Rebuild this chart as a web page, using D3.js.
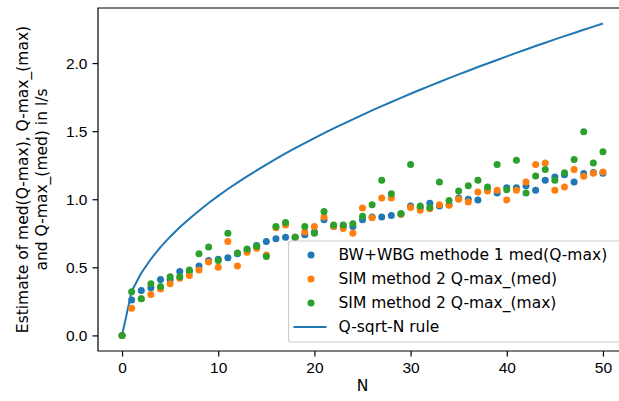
<!DOCTYPE html>
<html>
<head>
<meta charset="utf-8">
<script src="https://cdn.jsdelivr.net/npm/d3@7"></script>
<style>
  html, body { margin: 0; padding: 0; background: #fff; }
  svg { display: block; font-family: "DejaVu Sans", sans-serif; }
</style>
</head>
<body>
<div id="chart"></div>
<script>
// N = 0..50
const nValues = d3.range(0, 51);

const bwMed = [0, 0.26, 0.33, 0.35, 0.41, 0.41, 0.47, 0.47, 0.51, 0.55,
  0.56, 0.57, 0.60, 0.63, 0.66, 0.69, 0.71, 0.72, 0.72, 0.74,
  0.76, 0.85, 0.80, 0.80, 0.80, 0.85, 0.87, 0.87, 0.88, 0.89,
  0.95, 0.94, 0.97, 0.95, 0.96, 1.01, 1.00, 0.995, 1.07, 1.046,
  1.085, 1.085, 1.10, 1.066, 1.14, 1.164, 1.18, 1.127, 1.189, 1.196,
  1.19];

const simMed = [0, 0.20, 0.27, 0.30, 0.34, 0.38, 0.42, 0.44, 0.48, 0.54,
  0.50, 0.69, 0.51, 0.61, 0.64, 0.59, 0.79, 0.81, 0.72, 0.76,
  0.80, 0.87, 0.80, 0.785, 0.75, 0.936, 0.865, 1.01, 1.01, 0.89,
  0.94, 0.92, 0.93, 0.96, 0.955, 1.00, 0.98, 1.054, 1.06, 1.066,
  0.995, 1.066, 1.127, 1.255, 1.267, 1.066, 1.09, 1.218, 1.169, 1.19,
  1.20];

const simMax = [0, 0.32, 0.27, 0.38, 0.36, 0.43, 0.43, 0.48, 0.60, 0.65,
  0.55, 0.75, 0.605, 0.635, 0.655, 0.58, 0.80, 0.83, 0.72, 0.80,
  0.75, 0.91, 0.81, 0.81, 0.82, 0.875, 0.96, 1.14, 1.04, 0.895,
  1.255, 0.95, 0.94, 1.127, 0.99, 1.06, 1.10, 1.14, 1.09, 1.255,
  1.07, 1.287, 1.046, 1.17, 1.218, 1.14, 1.194, 1.292, 1.495, 1.267,
  1.348];

// Q-sqrt-N rule
const qRule = [0, 0.324, 0.458, 0.561, 0.648, 0.725, 0.794, 0.857, 0.916, 0.972,
  1.025, 1.075, 1.122, 1.168, 1.212, 1.255, 1.296, 1.336, 1.375, 1.412,
  1.449, 1.485, 1.520, 1.554, 1.587, 1.620, 1.652, 1.684, 1.714, 1.745,
  1.775, 1.804, 1.833, 1.861, 1.889, 1.917, 1.944, 1.971, 1.997, 2.023,
  2.049, 2.075, 2.100, 2.125, 2.149, 2.174, 2.198, 2.221, 2.245, 2.268,
  2.291];

const xTicks = [0, 10, 20, 30, 40, 50];
const yTicks = [0.0, 0.5, 1.0, 1.5, 2.0];

const seriesNames = [
  "BW+WBG methode 1 med(Q-max)",
  "SIM method 2 Q-max_(med)",
  "SIM method 2 Q-max_(max)",
];
const lineName = "Q-sqrt-N rule";
const colors = ["#1f77b4", "#ff7f0e", "#2ca02c"];
const lineColor = "#1f77b4";

const width = 619;
const height = 401;
const fontSize = 15.5;
const marginLeft = 98;
const marginTop = 8;
const marginBottom = 50;
const plotRight = 627; // right spine falls outside the image

const x = d3.scaleLinear().domain([-2.5, 52.5]).range([marginLeft, plotRight]);
const y = d3.scaleLinear().domain([-0.1145, 2.4045]).range([height - marginBottom, marginTop]);

const svg = d3.select("#chart")
  .append("svg")
  .attr("width", width)
  .attr("height", height)
  .attr("viewBox", [0, 0, width, height])
  .style("font-size", fontSize + "px");

// axes
const xAxis = d3.axisBottom(x).tickValues(xTicks).tickFormat(d3.format("d"))
  .tickSizeInner(5.5).tickSizeOuter(0).tickPadding(5);
const yAxis = d3.axisLeft(y).tickValues(yTicks).tickFormat(d3.format(".1f"))
  .tickSizeInner(5.5).tickSizeOuter(0).tickPadding(5);

svg.append("g")
  .attr("transform", `translate(0,${height - marginBottom})`)
  .call(xAxis)
  .call((g) => g.select(".domain").remove())
  .call((g) => g.selectAll("text").attr("font-size", fontSize).attr("fill", "#000"))
  .call((g) => g.selectAll("line").attr("stroke-width", 1.2));

svg.append("g")
  .attr("transform", `translate(${marginLeft},0)`)
  .call(yAxis)
  .call((g) => g.select(".domain").remove())
  .call((g) => g.selectAll("text").attr("font-size", fontSize).attr("fill", "#000"))
  .call((g) => g.selectAll("line").attr("stroke-width", 1.2));

// spines
svg.append("path")
  .attr("fill", "none")
  .attr("stroke", "#000")
  .attr("stroke-width", 1.2)
  .attr("d", `M${plotRight},${marginTop}H${marginLeft}V${height - marginBottom}H${plotRight}`);

// axis labels
svg.append("text")
  .attr("x", (marginLeft + plotRight) / 2)
  .attr("y", 391)
  .attr("text-anchor", "middle")
  .attr("fill", "#000")
  .text("N");

const yLabel = svg.append("text")
  .attr("transform", `translate(0,${(marginTop + height - marginBottom) / 2}) rotate(-90)`)
  .attr("text-anchor", "middle")
  .attr("fill", "#000");
yLabel.append("tspan").attr("x", 0).attr("y", 28).text("Estimate of med(Q-max), Q-max_(max)");
yLabel.append("tspan").attr("x", 0).attr("y", 47).text("and Q-max_(med) in l/s");

// clip for plot area
svg.append("clipPath").attr("id", "plot-clip")
  .append("rect")
  .attr("x", marginLeft).attr("y", marginTop)
  .attr("width", plotRight - marginLeft)
  .attr("height", height - marginBottom - marginTop);

const plot = svg.append("g").attr("clip-path", "url(#plot-clip)");

const line = d3.line()
  .x((d, i) => x(nValues[i]))
  .y((d) => y(d));

plot.append("path")
  .datum(qRule)
  .attr("fill", "none")
  .attr("stroke", lineColor)
  .attr("stroke-width", 2)
  .attr("stroke-linejoin", "round")
  .attr("d", line);

[bwMed, simMed, simMax].forEach((values, k) => {
  plot.append("g")
    .attr("fill", colors[k])
    .selectAll("circle")
    .data(values)
    .join("circle")
    .attr("cx", (d, i) => x(nValues[i]))
    .attr("cy", (d) => y(d))
    .attr("r", 3.5);
});

// legend
const legendX = 288.5;
const legendY = 241;
const rowStep = 24;
const legend = svg.append("g").attr("transform", `translate(${legendX},${legendY})`);

legend.append("rect")
  .attr("width", 338)
  .attr("height", 101)
  .attr("rx", 3)
  .attr("fill", "#fff")
  .attr("fill-opacity", 0.8)
  .attr("stroke", "#ccc")
  .attr("stroke-width", 1.1);

const rows = seriesNames.map((name, i) => ({ name, color: colors[i], type: "dot" }))
  .concat([{ name: lineName, color: lineColor, type: "line" }]);

const rowG = legend.selectAll("g.row")
  .data(rows)
  .join("g")
  .attr("class", "row")
  .attr("transform", (d, i) => `translate(0,${14 + i * rowStep})`);

rowG.filter((d) => d.type === "dot")
  .append("circle")
  .attr("cx", 22.5)
  .attr("cy", 0)
  .attr("r", 3.5)
  .attr("fill", (d) => d.color);

rowG.filter((d) => d.type === "line")
  .append("line")
  .attr("x1", 5).attr("x2", 38)
  .attr("stroke", (d) => d.color)
  .attr("stroke-width", 2);

rowG.append("text")
  .attr("x", 50)
  .attr("dy", "0.35em")
  .attr("fill", "#000")
  .text((d) => d.name);
</script>
</body>
</html>
